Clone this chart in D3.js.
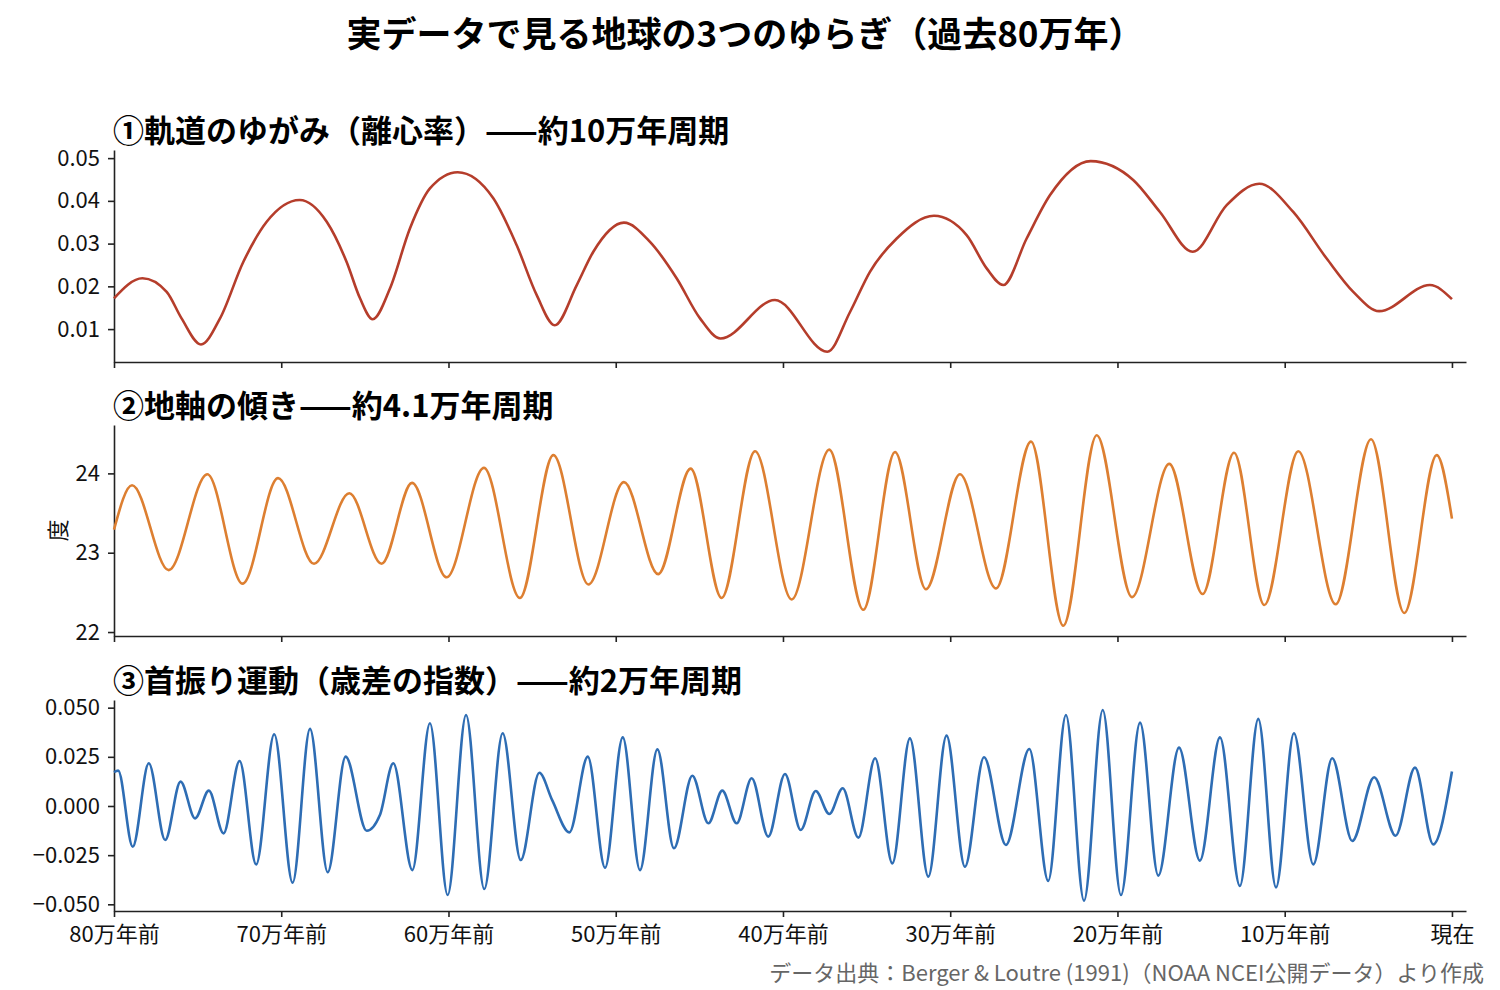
<!DOCTYPE html>
<html>
<head>
<meta charset="utf-8">
<script src="https://cdn.jsdelivr.net/npm/d3@7"></script>
<style>
  body { margin: 0; background: #fff; }
  text { font-family: "Noto Sans CJK JP", "Noto Sans", sans-serif; }
</style>
</head>
<body>
<div id="chart"></div>
<script>
// ages are in thousands of years before present
var eccAge = [800, 783, 768.5, 759.6, 748, 736.6, 722.7, 708.7, 689, 672.8, 660.9, 652.9, 645.3, 635, 623, 611.1,
  594.5, 573.2, 559.2, 547.3, 536.5, 523.3, 513.4, 495.1, 479.5, 463.6, 449.6, 437.3, 404.8, 373.5, 359.9, 348,
  332, 309.7, 290.2, 278.2, 268.3, 254.3, 240.4, 216, 190.6, 174.6, 155, 134.7, 115.2, 94.9, 74.9, 59, 43.5, 13.2, 0];
var eccValue = [0.0172, 0.0219, 0.0187, 0.0125, 0.0064, 0.0125, 0.0257, 0.0351, 0.0402, 0.0351, 0.0257, 0.0172, 0.0123, 0.0195, 0.0336, 0.0429,
  0.0467, 0.0406, 0.0296, 0.0180, 0.0109, 0.0203, 0.0281, 0.0349, 0.0304, 0.0219, 0.0125, 0.0078, 0.0168, 0.0047, 0.0140, 0.0234,
  0.0312, 0.0365, 0.0320, 0.0242, 0.0203, 0.0312, 0.0413, 0.0493, 0.0449, 0.0374, 0.0281, 0.0390, 0.0440, 0.0374, 0.0265, 0.0187, 0.0142, 0.0203, 0.0170];

var oblAge = [800, 789.2, 767.3, 744.2, 723.1, 701.9, 680.4, 659.3, 640, 621.8, 601.1, 578.8, 557.3, 537.3, 516.3, 495.1,
  474.6, 455.2, 436.7, 416.7, 394.8, 372.3, 352, 333, 314.5, 294.2, 272.6, 251.7, 232.4, 212.4, 191.3, 169,
  149.1, 130.3, 112.2, 91.9, 69.5, 48.4, 28.5, 9.1, 0];
var oblValue = [23.29, 23.85, 22.78, 23.99, 22.61, 23.94, 22.86, 23.75, 22.86, 23.88, 22.69, 24.07, 22.43, 24.23, 22.60, 23.89,
  22.73, 24.06, 22.43, 24.28, 22.41, 24.30, 22.28, 24.27, 22.54, 23.99, 22.55, 24.40, 22.08, 24.48, 22.44, 24.12,
  22.48, 24.26, 22.34, 24.28, 22.35, 24.43, 22.24, 24.23, 23.43];

var precAge = [800, 797.5, 788.8, 779.2, 769.4, 760.2, 751.5, 743.3, 734.5, 724.9, 715, 704.2, 693.2, 682.8, 672.2, 661.5,
  648.9, 641, 633, 621.6, 611.1, 600.5, 589.5, 578.6, 567.6, 556.8, 545.7, 538, 527.7, 516.7, 506.4, 495.8,
  485.5, 475.1, 465.2, 454.2, 444.6, 436.3, 427.7, 418.7, 408.8, 398.8, 389.4, 380.4, 372.3, 364.3, 354.9, 344.9,
  334.6, 324.1, 313.1, 302.2, 291.2, 279.8, 266.7, 252.7, 241.4, 230.8, 220, 208.8, 197.9, 186.5, 175.6, 163.2,
  150.7, 138.7, 126.8, 115.8, 105.2, 94.5, 82.9, 71.6, 59.6, 46.5, 33.7, 22.1, 11.2, 0];
var precValue = [0.0172, 0.0180, -0.0207, 0.0217, -0.0173, 0.0124, -0.0063, 0.0078, -0.0139, 0.0229, -0.0297, 0.0365, -0.0390, 0.0392, -0.0337, 0.0251,
  -0.0126, -0.0046, 0.0217, -0.0326, 0.0421, -0.0453, 0.0463, -0.0422, 0.0370, -0.0275, 0.0169, 0.0030, -0.0134, 0.0251, -0.0314, 0.0349,
  -0.0326, 0.0288, -0.0215, 0.0154, -0.0088, 0.0078, -0.0088, 0.0141, -0.0156, 0.0163, -0.0122, 0.0076, -0.0041, 0.0090, -0.0161, 0.0243,
  -0.0292, 0.0344, -0.0359, 0.0358, -0.0309, 0.0248, -0.0198, 0.0290, -0.0381, 0.0463, -0.0482, 0.0488, -0.0453, 0.0424, -0.0354, 0.0297,
  -0.0278, 0.0349, -0.0407, 0.0443, -0.0414, 0.0370, -0.0297, 0.0243, -0.0178, 0.0146, -0.0151, 0.0195, -0.0195, 0.0175];

var xTickAges = [800, 700, 600, 500, 400, 300, 200, 100, 0];
var xTickLabels = ["80万年前", "70万年前", "60万年前", "50万年前", "40万年前", "30万年前", "20万年前", "10万年前", "現在"];

var eccTicks = [0.01, 0.02, 0.03, 0.04, 0.05];
var oblTicks = [22, 23, 24];
var precTicks = [-0.05, -0.025, 0, 0.025, 0.05];

var panelTitles = [
  "①軌道のゆがみ（離心率）——約10万年周期",
  "②地軸の傾き——約4.1万年周期",
  "③首振り運動（歳差の指数）——約2万年周期"
];

(function() {
  var width = 1500,
    height = 990;

  var svg = d3.select("#chart")
    .append("svg")
    .attr("width", width)
    .attr("height", height)
    .style("background", "#fff");

  var x = d3.scaleLinear().domain([800, -8.4]).range([114, 1466]);

  var minus = function(s) { return s.replace("-", "\u2212"); };

  var panels = [
    { age: eccAge, value: eccValue, top: 150, bottom: 362, domain: [0.0023, 0.0519], ticks: eccTicks,
      fmt: d3.format(".2f"), color: "#b53d2b", curve: d3.curveMonotoneX },
    { age: oblAge, value: oblValue, top: 425, bottom: 636, domain: [21.95, 24.61], ticks: oblTicks,
      fmt: d3.format("d"), color: "#dd7f31", ylabel: "度", curve: d3.curveMonotoneX },
    { age: precAge, value: precValue, top: 700, bottom: 911, domain: [-0.0534, 0.0539], ticks: precTicks,
      fmt: function(d) { return minus(d3.format(".3f")(d)); }, color: "#2e6db4", last: true, curve: d3.curveMonotoneX }
  ];

  panels.forEach(function(p, i) {
    var y = d3.scaleLinear().domain(p.domain).range([p.bottom, p.top]);
    var g = svg.append("g");

    // panel title
    g.append("text")
      .attr("x", 113)
      .attr("y", p.top - 8)
      .attr("font-size", 31)
      .attr("font-weight", "bold")
      .attr("fill", "#000")
      .text(panelTitles[i]);

    var yAxis = d3.axisLeft(y)
      .tickValues(p.ticks)
      .tickFormat(p.fmt)
      .tickSize(6)
      .tickSizeOuter(0)
      .tickPadding(8);

    var xAxis = d3.axisBottom(x)
      .tickValues(xTickAges)
      .tickSize(6)
      .tickSizeOuter(0)
      .tickPadding(9)
      .tickFormat(function(d, j) { return p.last ? xTickLabels[j] : ""; });

    var ya = g.append("g")
      .attr("transform", "translate(114,0)")
      .call(yAxis);

    var xa = g.append("g")
      .attr("transform", "translate(0," + p.bottom + ")")
      .call(xAxis);

    [ya, xa].forEach(function(a) {
      a.select(".domain").attr("stroke", "#222").attr("stroke-width", 1.6);
      a.selectAll(".tick line").attr("stroke", "#222").attr("stroke-width", 1.6);
      a.selectAll(".tick text")
        .attr("font-family", "\"Noto Sans CJK JP\", sans-serif")
        .attr("font-size", 22)
        .attr("fill", "#111");
    });

    if (p.ylabel) {
      g.append("text")
        .attr("transform", "translate(56," + ((p.top + p.bottom) / 2) + ") rotate(-90)")
        .attr("text-anchor", "middle")
        .attr("dominant-baseline", "central")
        .attr("font-size", 22)
        .attr("fill", "#111")
        .text(p.ylabel);
    }

    var pts = p.age.map(function(a, k) { return [x(a), y(p.value[k])]; });

    g.append("path")
      .attr("d", d3.line().curve(p.curve)(pts))
      .attr("fill", "none")
      .attr("stroke", p.color)
      .attr("stroke-width", 2.6)
      .attr("stroke-linejoin", "round");
  });

  // main title
  svg.append("text")
    .attr("x", 745)
    .attr("y", 47)
    .attr("text-anchor", "middle")
    .attr("font-size", 35)
    .attr("font-weight", "bold")
    .attr("fill", "#000")
    .text("実データで見る地球の3つのゆらぎ（過去80万年）");

  // source note
  svg.append("text")
    .attr("x", 1484)
    .attr("y", 981)
    .attr("text-anchor", "end")
    .attr("font-size", 22)
    .attr("fill", "#666")
    .text("データ出典：Berger & Loutre (1991)（NOAA NCEI公開データ）より作成");
})();
</script>
</body>
</html>
